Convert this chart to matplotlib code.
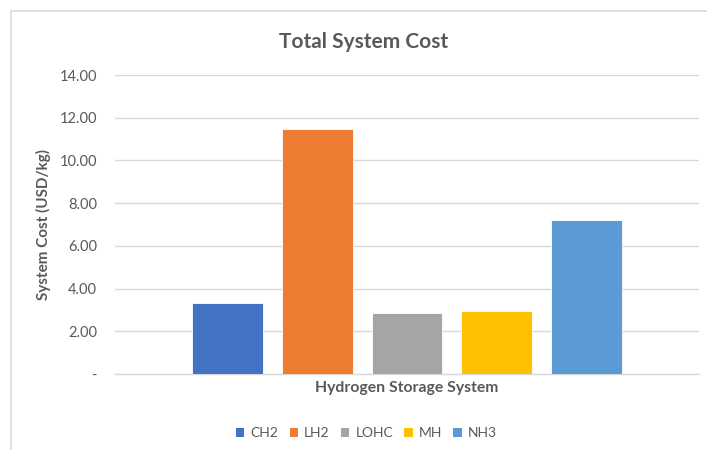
import matplotlib
matplotlib.use("Agg")
import matplotlib.pyplot as plt
from matplotlib.patches import Rectangle, Patch

categories = ["CH2", "LH2", "LOHC", "MH", "NH3"]
values = [3.33, 11.48, 2.84, 2.95, 7.22]
colors = ["#4472C4", "#ED7D31", "#A5A5A5", "#FFC000", "#5B9BD5"]
yticks = [0, 2, 4, 6, 8, 10, 12, 14]
ytick_labels = ["-", "2.00", "4.00", "6.00", "8.00", "10.00", "12.00", "14.00"]

plt.rcParams["font.family"] = ["Lato", "DejaVu Sans"]
text_color = "#595959"

fig = plt.figure(figsize=(7.07, 4.5), dpi=100)
fig.patches.append(Rectangle((11 / 707, -0.1), 1.2, 1 - 11.5 / 450 + 0.1,
                             transform=fig.transFigure, fill=False,
                             edgecolor="#d9d9d9", linewidth=1.2))

ax = fig.add_axes([115 / 707, 1 - 374 / 450, 584 / 707, 299 / 450])
x = list(range(len(categories)))
for xi, v, c, lab in zip(x, values, colors, categories):
    ax.bar(xi, v, width=0.79, color=c, edgecolor="white", linewidth=0.6,
           label=lab, zorder=3)

ax.set_xlim(-1.26, 5.26)
ax.set_ylim(0, 14)
ax.set_yticks(yticks)
ax.set_yticklabels(ytick_labels, color=text_color, fontsize=10.5)
ax.set_xticks([])
ax.tick_params(axis="y", length=0, pad=13)
ax.grid(axis="y", color="#d9d9d9", linewidth=1, zorder=0)
for s in ["top", "right", "left"]:
    ax.spines[s].set_visible(False)
ax.spines["bottom"].set_color("#d9d9d9")
ax.spines["bottom"].set_linewidth(1)

ax.set_ylabel("System Cost (USD/kg)", fontsize=11, fontweight="bold",
              color=text_color, labelpad=6)
ax.set_xlabel("Hydrogen Storage System", fontsize=11.3, fontweight="bold",
              color=text_color, labelpad=5)

fig.text(363.5 / 707, 1 - 42 / 450, "Total System Cost", ha="center", va="center",
         fontsize=15, fontweight="bold", color=text_color)

handles = [Patch(facecolor=c, label=lab) for c, lab in zip(colors, categories)]
fig.legend(handles=handles, loc="center", bbox_to_anchor=(366.5 / 707, 1 - 433 / 450),
           ncol=5, frameon=False, fontsize=10, handlelength=0.6, handleheight=0.6,
           handletextpad=0.45, columnspacing=0.8, labelcolor=text_color)

fig.savefig("out.png", dpi=100)
